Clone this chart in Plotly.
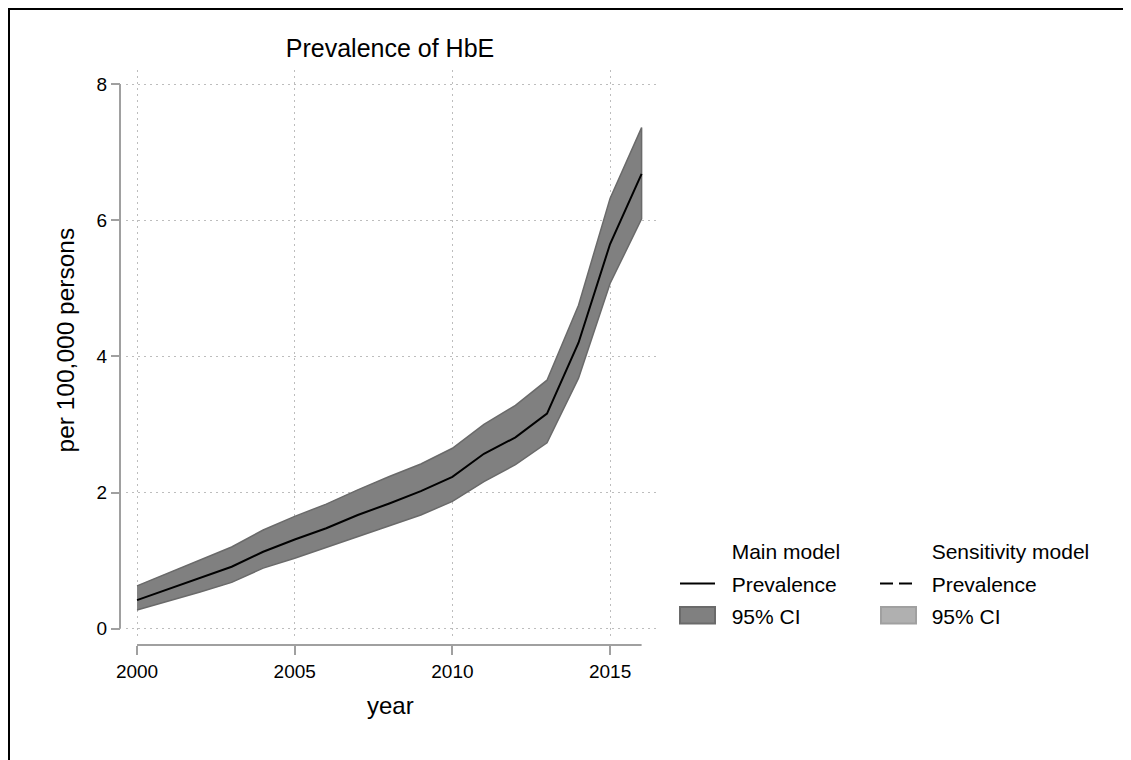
import plotly.graph_objects as go

# ---------------- data ----------------
years = list(range(2000, 2017))
prevalence = [0.42, 0.58, 0.75, 0.91, 1.13, 1.31, 1.475, 1.67, 1.84, 2.02,
              2.23, 2.57, 2.81, 3.16, 4.20, 5.65, 6.68]
ci_upper = [0.63, 0.82, 1.01, 1.20, 1.45, 1.65, 1.83, 2.04, 2.235, 2.42,
            2.65, 3.00, 3.28, 3.65, 4.75, 6.32, 7.36]
ci_lower = [0.275, 0.41, 0.54, 0.68, 0.89, 1.035, 1.19, 1.355, 1.51, 1.67,
            1.87, 2.16, 2.41, 2.73, 3.68, 5.07, 6.02]

x_ticks = [2000, 2005, 2010, 2015]
y_ticks = [0, 2, 4, 6, 8]

title_text = "Prevalence of HbE"
x_title = "year"
y_title = "per 100,000 persons"

# ---------------- layout helpers ----------------
OFF = 8                      # page body margin of the html page
FIG_W, FIG_H = 1131 - OFF, 760 - OFF
# paper box, in screen pixels
PL, PR, PT, PB = 120, 658, 70, 645
PW, PH = PR - PL, PB - PT


def px_x(px):
    return (px - PL) / PW


def px_y(py):
    return (PB - py) / PH


FONT = "Liberation Sans, Arial, Helvetica, sans-serif"
NB = "\u00a0\u00a0"
axis_color = "#a0a0a0"
grid_color = "#bdbdbd"
band_fill, band_line = "#808080", "#6a6a6a"
sens_fill, sens_line = "#b0b0b0", "#a0a0a0"
INVISIBLE = dict(color="rgba(0,0,0,0)", width=2)

fig = go.Figure()

# 95% CI band (main model)
fig.add_trace(go.Scatter(
    x=years + years[::-1], y=ci_upper + ci_lower[::-1],
    fill="toself", fillcolor=band_fill, line=dict(color=band_line, width=1.5),
    mode="lines", showlegend=False, hoverinfo="skip",
))
# prevalence line (main model)
fig.add_trace(go.Scatter(
    x=years, y=prevalence, mode="lines",
    line=dict(color="black", width=2),
    name=NB + "Prevalence", legend="legend", legendrank=2, legendgroup="m2",
))
# legend entries without their own symbol (box symbols drawn below)
fig.add_trace(go.Scatter(x=[None], y=[None], mode="lines", line=INVISIBLE,
                         name=NB + "Main model", legend="legend",
                         legendrank=1, legendgroup="m1"))
fig.add_trace(go.Scatter(x=[None], y=[None], mode="lines", line=INVISIBLE,
                         name=NB + "95% CI", legend="legend",
                         legendrank=3, legendgroup="m3"))
# sensitivity model (legend only, no visible data)
fig.add_trace(go.Scatter(x=[None], y=[None], mode="lines", line=INVISIBLE,
                         name=NB + "Sensitivity model", legend="legend2",
                         legendrank=1, legendgroup="s1"))
fig.add_trace(go.Scatter(
    x=[None], y=[None], mode="lines",
    line=dict(color="black", width=2, dash="13px,6px"),
    name=NB + "Prevalence", legend="legend2", legendrank=2, legendgroup="s2",
))
fig.add_trace(go.Scatter(x=[None], y=[None], mode="lines", line=INVISIBLE,
                         name=NB + "95% CI", legend="legend2",
                         legendrank=3, legendgroup="s3"))

legend_common = dict(
    xanchor="left", yanchor="top", y=px_y(531),
    bgcolor="rgba(0,0,0,0)", borderwidth=0,
    font=dict(size=21, color="black", family=FONT),
    traceorder="grouped", tracegroupgap=2, itemwidth=35,
    itemclick=False, itemdoubleclick=False,
)

fig.update_layout(
    width=FIG_W, height=FIG_H,
    margin=dict(l=PL - OFF, r=FIG_W - (PR - OFF), t=PT - OFF, b=FIG_H - (PB - OFF), pad=0),
    paper_bgcolor="white", plot_bgcolor="white",
    font=dict(family=FONT, size=19, color="black"),
    title=dict(text=title_text, x=(390 - OFF) / FIG_W, xanchor="center", xref="container",
               y=1 - (48 - OFF) / FIG_H, yanchor="middle", yref="container",
               font=dict(size=25, color="black", family=FONT)),
    xaxis=dict(
        domain=[px_x(126), 1], range=[1999.65, 2016.52],
        anchor="free", position=0,
        tickmode="array", tickvals=x_ticks, ticktext=[str(v) for v in x_ticks],
        ticks="outside", ticklen=9, tickwidth=2, tickcolor=axis_color,
        showline=False, zeroline=False,
        showgrid=True, gridcolor=grid_color, griddash="2px,4px", gridwidth=1,
        tickfont=dict(size=19, color="black"),
    ),
    yaxis=dict(
        domain=[px_y(639), 1], range=[-0.151, 8.206],
        anchor="free", position=0,
        tickmode="array", tickvals=y_ticks, ticktext=[str(v) for v in y_ticks],
        ticks="outside", ticklen=9, tickwidth=2, tickcolor=axis_color,
        showline=False, zeroline=False,
        showgrid=True, gridcolor=grid_color, griddash="2px,4px", gridwidth=1,
        tickfont=dict(size=19, color="black"),
    ),
    legend=dict(x=px_x(675), **legend_common),
    legend2=dict(x=px_x(875), **legend_common),
    showlegend=True,
)

# legend box symbols for the two 95% CI entries
for x0, fc, lc in [(680, band_fill, band_line), (881, sens_fill, sens_line)]:
    fig.add_shape(type="rect", xref="paper", yref="paper",
                  x0=px_x(x0), x1=px_x(x0 + 35), y0=px_y(607), y1=px_y(623.5),
                  fillcolor=fc, line=dict(color=lc, width=2), layer="above")

# detached axis lines (Stata style) spanning the labelled range
fig.add_shape(type="line", xref="paper", yref="y",
              x0=0, x1=0, y0=min(y_ticks), y1=max(y_ticks),
              line=dict(color=axis_color, width=2), layer="above")
fig.add_shape(type="line", xref="x", yref="paper",
              x0=min(years), x1=max(years), y0=0, y1=0,
              line=dict(color=axis_color, width=2), layer="above")

# outer frame (left and top edges visible)
fig.add_shape(type="rect", xref="paper", yref="paper",
              x0=px_x(OFF + 1), x1=px_x(1200), y0=px_y(OFF + 1), y1=px_y(800),
              line=dict(color="black", width=2), fillcolor="rgba(0,0,0,0)",
              layer="below")

# axis titles
fig.add_annotation(text=y_title, xref="paper", yref="paper",
                   x=px_x(64.5), y=px_y(340), textangle=-90,
                   showarrow=False, xanchor="center", yanchor="middle",
                   font=dict(size=24.5, color="black", family=FONT))
fig.add_annotation(text=x_title, xref="paper", yref="paper",
                   x=px_x(390), y=px_y(705),
                   showarrow=False, xanchor="center", yanchor="middle",
                   font=dict(size=24, color="black", family=FONT))

fig.write_html("out.html")
